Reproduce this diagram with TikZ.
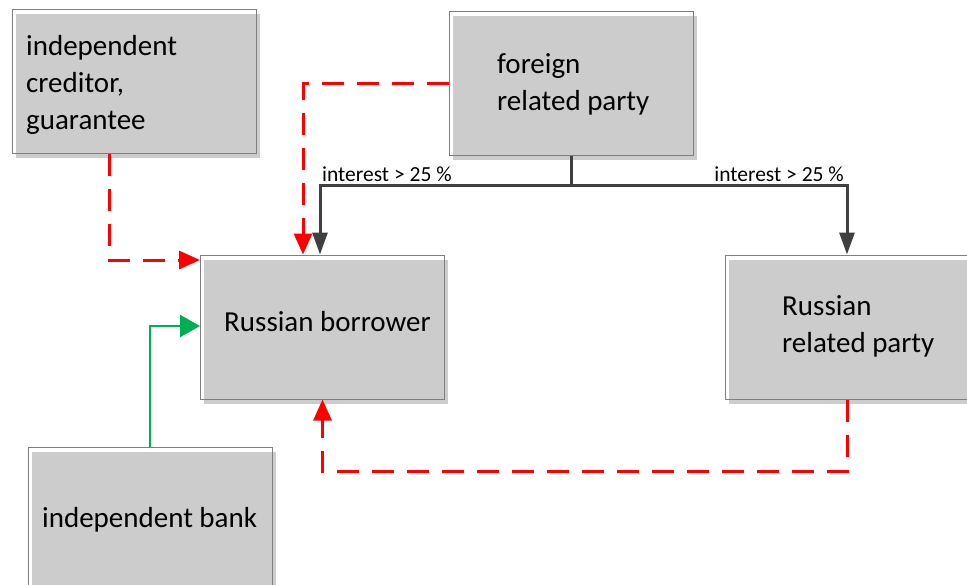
\documentclass[tikz,border=0pt]{standalone}
\usepackage{fontspec}
\setmainfont{Carlito}
\usetikzlibrary{arrows.meta,shadows}
\definecolor{boxfill}{HTML}{CCCCCC}
\definecolor{boxline}{HTML}{7F7F7F}
\definecolor{darkline}{HTML}{404040}
\definecolor{redline}{HTML}{FF0000}
\definecolor{greenline}{HTML}{00B050}
\tikzset{
  box/.style={draw=boxline, line width=1pt, minimum width=244pt, minimum height=144pt,
    inner sep=0pt, general shadow={fill=boxfill, shadow xshift=3.5pt, shadow yshift=-4.5pt}},
  boxtext/.style={font=\fontsize{29}{37}\selectfont, align=left, inner sep=0pt, anchor=west},
  lbl/.style={font=\fontsize{21.5}{24}\selectfont, inner sep=0pt},
  reddash/.style={draw=redline, line width=3pt, dash pattern=on 22pt off 13pt,
    -{Triangle[length=21pt,width=18pt,sep=0pt]}},
  darkarrow/.style={draw=darkline, line width=3pt, -{Triangle[length=22pt,width=15pt]}},
  greenarrow/.style={draw=greenline, line width=2.5pt, -{Triangle[length=20pt,width=22pt]}}
}
\begin{document}
\begin{tikzpicture}[x=1pt,y=-1pt]
\useasboundingbox (0,0) rectangle (967,584);
\clip (0,0) rectangle (967,584);
% boxes
\node[box] (cred) at (134,81) {};
\node[box] (foreign) at (571,83.5) {};
\node[box] (borrower) at (322.5,327) {};
\node[box] (rrp) at (847,327) {};
\node[box] (bank) at (150,519) {};
% texts
\node[boxtext] (tcred) at (26,85) {independent\\creditor,\\guarantee};
\node[boxtext] (tforeign) at (497,84.5) {foreign\\related party};
\node[boxtext] (tborrower) at (224,322) {Russian borrower};
\node[boxtext] (trrp) at (782,326) {Russian\\related party};
\node[boxtext] (tbank) at (42,520) {independent bank};
% dark connectors
\coordinate (j) at ([yshift=-29pt]foreign.south);
\draw[draw=darkline, line width=3pt] (foreign.south) -- (j);
\draw[darkarrow] (j) -| ([xshift=-2.5pt]borrower.north);
\draw[darkarrow] (j) -| (rrp.north);
\node[lbl, anchor=base west] (l1) at (322,181) {interest > 25 \%};
\node[lbl, anchor=base east] (l2) at (844,181) {interest > 25 \%};
% red dashed
\draw[reddash] ([xshift=-25pt]cred.south) |- ([yshift=67pt]borrower.west);
\draw[reddash] (foreign.west) -| ([xshift=-19.5pt]borrower.north);
\draw[reddash] (rrp.south) -- ++(0,-72pt) -| (borrower.south);
% green
\draw[greenarrow] (bank.north) |- ([yshift=1pt]borrower.west);
\end{tikzpicture}
\end{document}
